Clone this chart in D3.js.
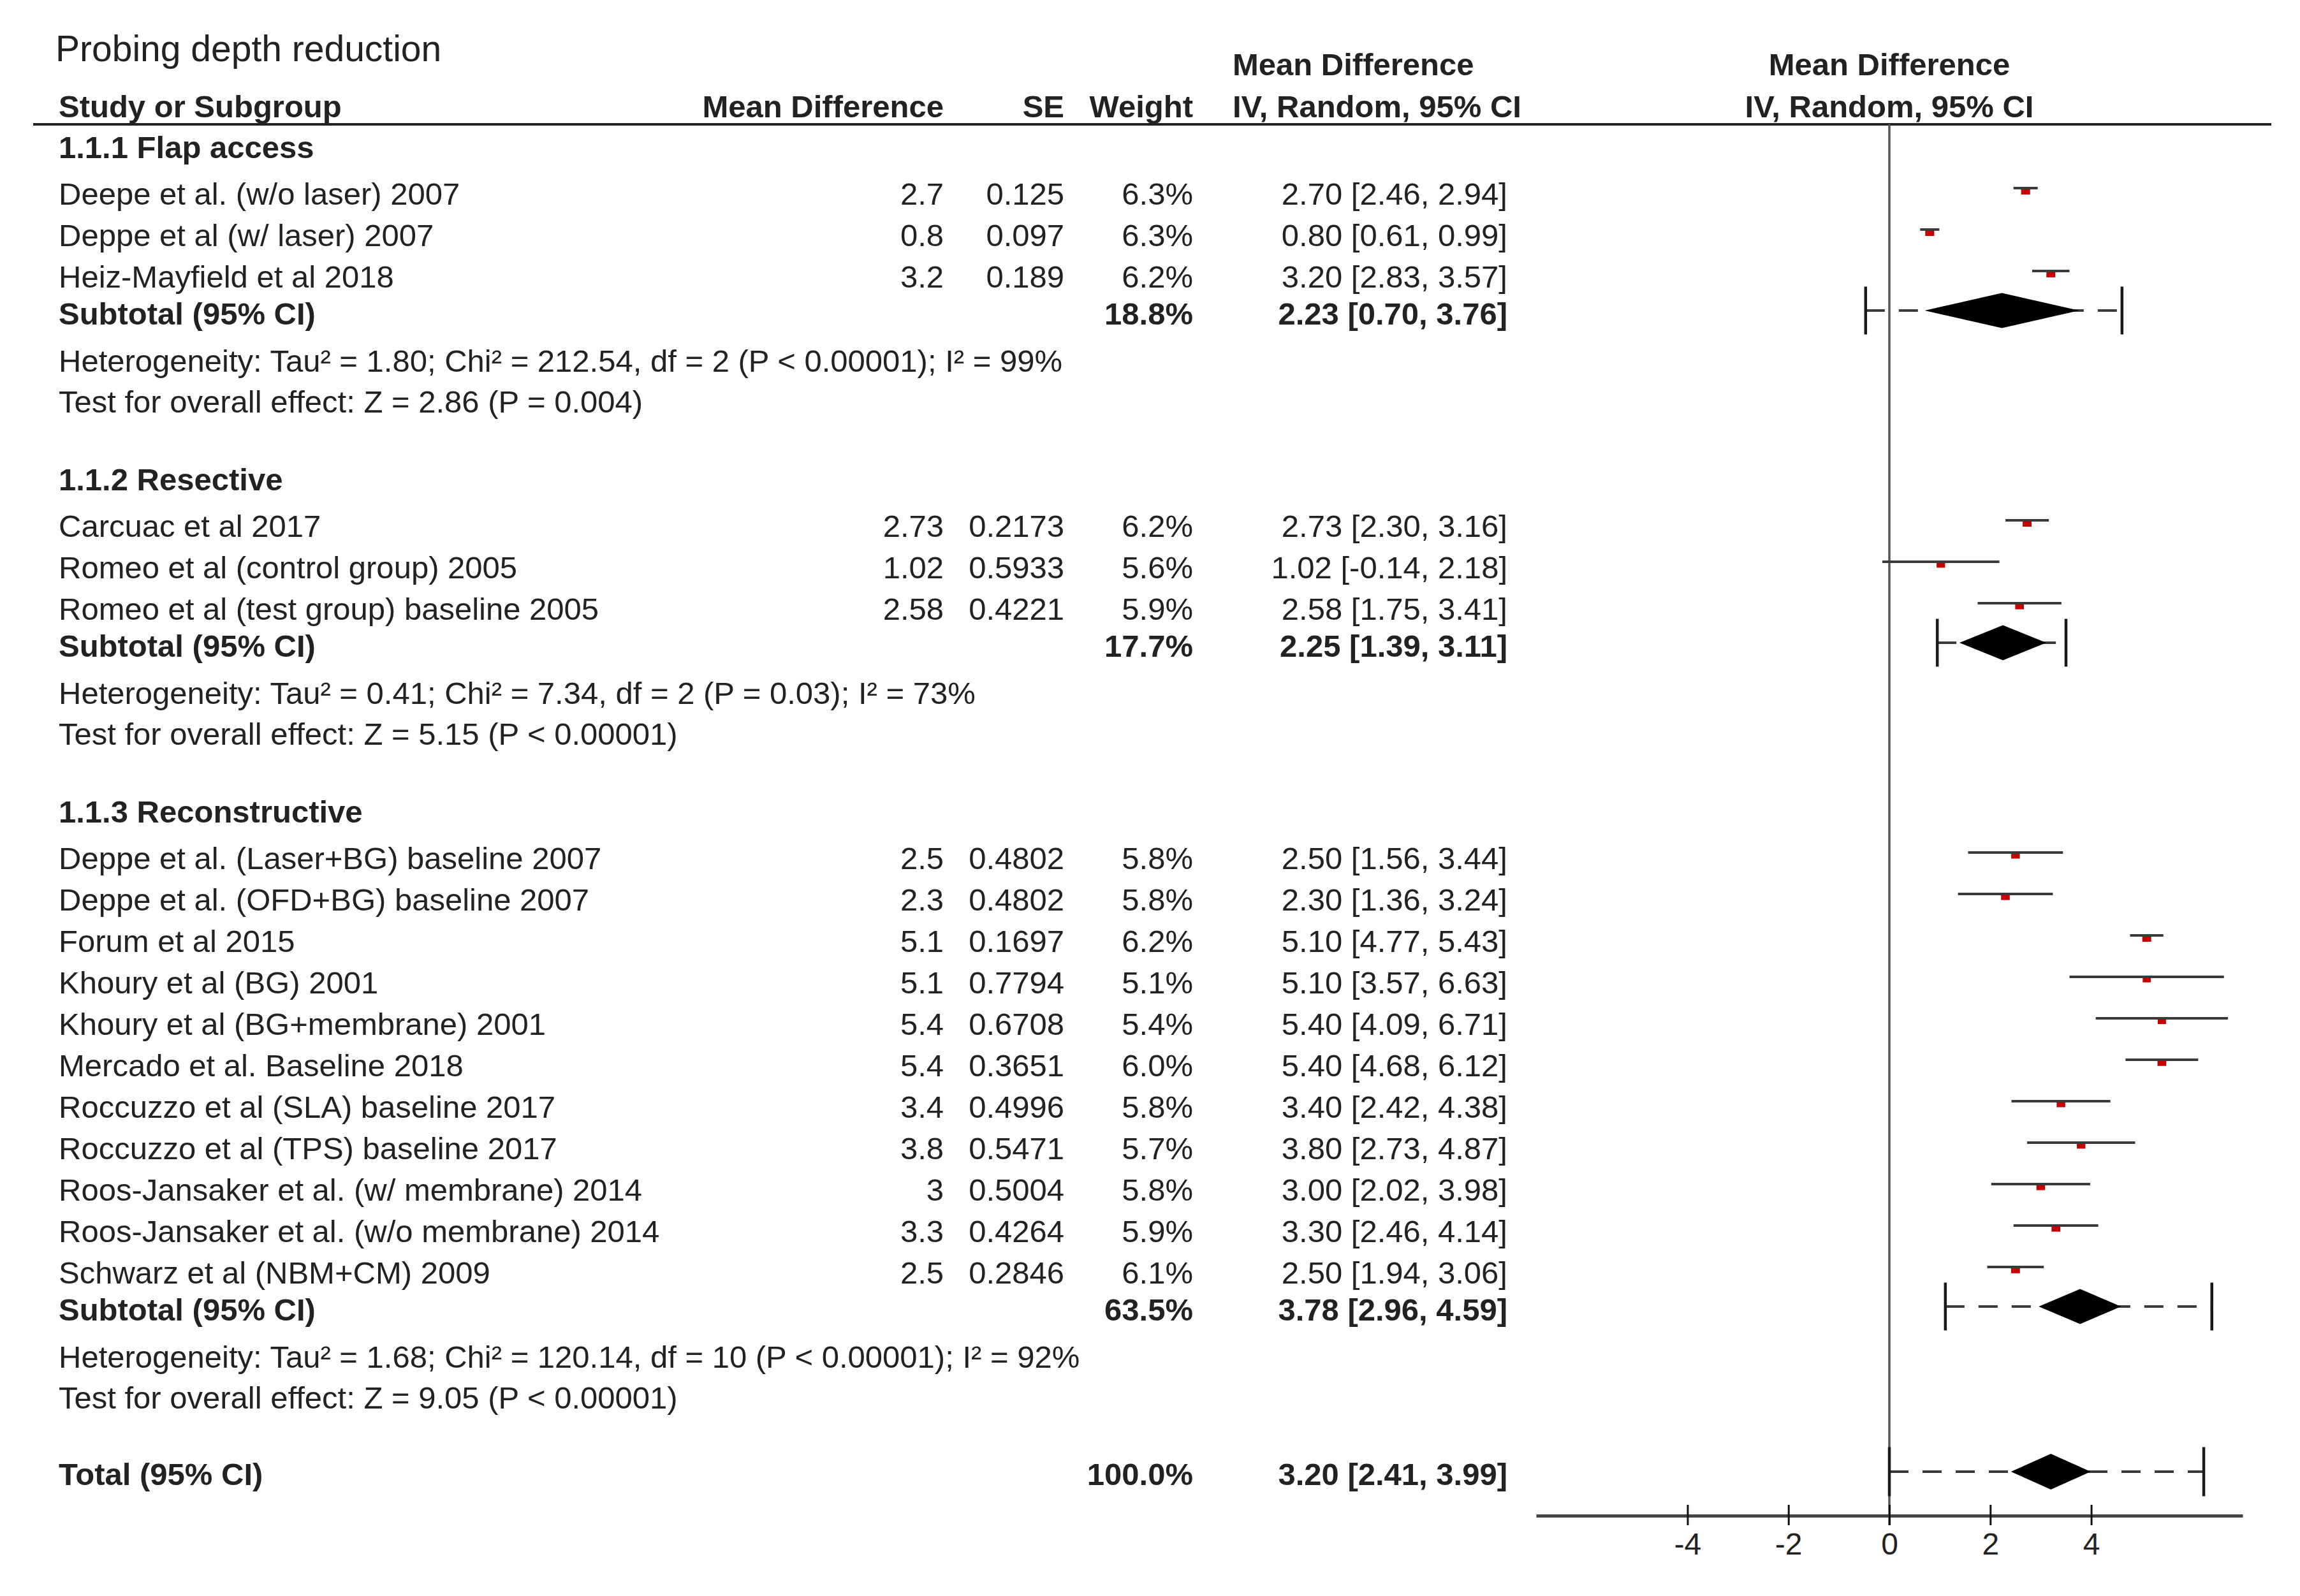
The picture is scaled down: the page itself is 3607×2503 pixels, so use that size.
<!DOCTYPE html>
<html><head><meta charset="utf-8">
<script src="https://cdn.jsdelivr.net/npm/d3@7"></script>
<style>html,body{margin:0;padding:0;background:#fff;} svg{display:block;}</style>
</head><body>
<script>
// ---------------- DATA ----------------
const chartTitle = "Probing depth reduction";
const groupLabels = ["1.1.1 Flap access", "1.1.2 Resective", "1.1.3 Reconstructive"];
const studyNames = [
  "Deepe et al. (w/o laser) 2007",
  "Deppe et al (w/ laser) 2007",
  "Heiz-Mayfield et al 2018",
  "Carcuac et al 2017",
  "Romeo et al (control group) 2005",
  "Romeo et al (test group) baseline 2005",
  "Deppe et al. (Laser+BG) baseline 2007",
  "Deppe et al. (OFD+BG) baseline 2007",
  "Forum et al 2015",
  "Khoury et al (BG) 2001",
  "Khoury et al (BG+membrane) 2001",
  "Mercado et al. Baseline 2018",
  "Roccuzzo et al (SLA) baseline 2017",
  "Roccuzzo et al (TPS) baseline 2017",
  "Roos-Jansaker et al. (w/ membrane) 2014",
  "Roos-Jansaker et al. (w/o membrane) 2014",
  "Schwarz et al (NBM+CM) 2009"
];
const studyGroup = [0,0,0, 1,1,1, 2,2,2,2,2,2,2,2,2,2,2];
const meanDiff = [2.7, 0.8, 3.2, 2.73, 1.02, 2.58, 2.5, 2.3, 5.1, 5.1, 5.4, 5.4, 3.4, 3.8, 3, 3.3, 2.5];
const stdErr   = [0.125, 0.097, 0.189, 0.2173, 0.5933, 0.4221, 0.4802, 0.4802, 0.1697, 0.7794, 0.6708, 0.3651, 0.4996, 0.5471, 0.5004, 0.4264, 0.2846];
const weights  = [6.3, 6.3, 6.2, 6.2, 5.6, 5.9, 5.8, 5.8, 6.2, 5.1, 5.4, 6.0, 5.8, 5.7, 5.8, 5.9, 6.1];
const ciLow    = [2.46, 0.61, 2.83, 2.30, -0.14, 1.75, 1.56, 1.36, 4.77, 3.57, 4.09, 4.68, 2.42, 2.73, 2.02, 2.46, 1.94];
const ciHigh   = [2.94, 0.99, 3.57, 3.16, 2.18, 3.41, 3.44, 3.24, 5.43, 6.63, 6.71, 6.12, 4.38, 4.87, 3.98, 4.14, 3.06];

const subWeight = [18.8, 17.7, 63.5];
const subMD     = [2.23, 2.25, 3.78];
const subLow    = [0.70, 1.39, 2.96];
const subHigh   = [3.76, 3.11, 4.59];
const subPredLow  = [-0.47, 0.95, 1.11];   // dashed-interval ends
const subPredHigh = [4.61, 3.50, 6.39];
const hetTexts = [
  "Heterogeneity: Tau\u00b2 = 1.80; Chi\u00b2 = 212.54, df = 2 (P < 0.00001); I\u00b2 = 99%",
  "Heterogeneity: Tau\u00b2 = 0.41; Chi\u00b2 = 7.34, df = 2 (P = 0.03); I\u00b2 = 73%",
  "Heterogeneity: Tau\u00b2 = 1.68; Chi\u00b2 = 120.14, df = 10 (P < 0.00001); I\u00b2 = 92%"
];
const testTexts = [
  "Test for overall effect: Z = 2.86 (P = 0.004)",
  "Test for overall effect: Z = 5.15 (P < 0.00001)",
  "Test for overall effect: Z = 9.05 (P < 0.00001)"
];
const totalWeight = [100.0];
const totalMD   = [3.20];
const totalLow  = [2.41];
const totalHigh = [3.99];
const totalPredLow  = [0.0];
const totalPredHigh = [6.23];

const axisDomain = [-7, 7];
const axisTicks = [-4, -2, 0, 2, 4];
const headerLabels = ["Study or Subgroup", "Mean Difference", "SE", "Weight"];
const ciHeader = ["Mean Difference", "IV, Random, 95% CI"];

// ---------------- LAYOUT ----------------
const W = 3607, H = 2503;
const FONT = "'Liberation Sans', Arial, sans-serif";
const TXT = "#222";
const fs = 49;
const colStudy = 92, colMD = 1480, colSE = 1669, colW = 1871, colCI = 2364, colCIHead = 1933;

const svg = d3.select("body").append("svg").attr("width", W).attr("height", H)
  .style("background", "#fff");

const x = d3.scaleLinear().domain(axisDomain).range([2409, 3517]);

function text(str, xx, yy, opts = {}) {
  return svg.append("text")
    .attr("x", xx).attr("y", yy)
    .attr("font-family", FONT)
    .attr("font-size", opts.size || fs)
    .attr("font-weight", opts.bold ? "bold" : "normal")
    .attr("text-anchor", opts.anchor || "start")
    .attr("fill", TXT)
    .text(str);
}

// title & headers
text(chartTitle, 87, 96, {size: 57});
text(ciHeader[0], colCIHead, 118, {bold: true});
text(ciHeader[0], x(0), 118, {bold: true, anchor: "middle"});
text(headerLabels[0], colStudy, 184, {bold: true});
text(headerLabels[1], colMD, 184, {bold: true, anchor: "end"});
text(headerLabels[2], colSE, 184, {bold: true, anchor: "end"});
text(headerLabels[3], colW, 184, {bold: true, anchor: "end"});
text(ciHeader[1], colCIHead, 184, {bold: true});
text(ciHeader[1], x(0), 184, {bold: true, anchor: "middle"});

svg.append("line").attr("x1", 52).attr("x2", 3562).attr("y1", 195).attr("y2", 195)
  .attr("stroke", "#222").attr("stroke-width", 4);

// compute row baselines
const studyY = new Array(studyNames.length);
const groupY = [], subY = [], hetY = [], testY = [];
let y = 248;
groupLabels.forEach((g, gi) => {
  groupY.push(y);
  y += 73;
  let last = y;
  studyNames.forEach((s, i) => {
    if (studyGroup[i] === gi) { studyY[i] = y; last = y; y += 65; }
  });
  const sy = last + 58;
  subY.push(sy);
  hetY.push(sy + 74);
  testY.push(sy + 138);
  y = sy + 138 + 122;
});
const totalY = testY[testY.length - 1] + 120;
const axisY = 2377;

// zero line
svg.append("line").attr("x1", x(0)).attr("x2", x(0)).attr("y1", 195).attr("y2", axisY + 15)
  .attr("stroke", "#555").attr("stroke-width", 3.5);

const fmt2 = v => d3.format(".2f")(v).replace("\u2212", "-");
const fmt1 = d => d3.format(".1f")(d) + "%";
const ciStr = (m, l, h) => `${fmt2(m)} [${fmt2(l)}, ${fmt2(h)}]`;

// group labels
groupLabels.forEach((g, gi) => text(g, colStudy, groupY[gi], {bold: true}));

// studies
studyNames.forEach((s, i) => {
  const by = studyY[i];
  text(s, colStudy, by);
  text(String(meanDiff[i]), colMD, by, {anchor: "end"});
  text(String(stdErr[i]), colSE, by, {anchor: "end"});
  text(fmt1(weights[i]), colW, by, {anchor: "end"});
  text(ciStr(meanDiff[i], ciLow[i], ciHigh[i]), colCI, by, {anchor: "end"});
});

// study marks
const marks = svg.append("g");
studyNames.forEach((s, i) => {
  const cy = studyY[i] - 21;
  const ly = cy - 5;
  const side = 5.6 * Math.sqrt(weights[i]);
  marks.append("rect")
    .attr("x", x(meanDiff[i]) - side / 2).attr("y", ly - 2)
    .attr("width", side).attr("height", side - 2)
    .attr("fill", "#c40000");
  marks.append("line")
    .attr("x1", x(ciLow[i])).attr("x2", x(ciHigh[i]))
    .attr("y1", ly).attr("y2", ly)
    .attr("stroke", "#3a3a3a").attr("stroke-width", 4);
});

function pooled(cy, m, l, h, pl, ph, dh, ch) {
  svg.append("line").attr("x1", x(pl)).attr("x2", x(ph)).attr("y1", cy).attr("y2", cy)
    .attr("stroke", "#3a3a3a").attr("stroke-width", 4).attr("stroke-dasharray", "30,22");
  [pl, ph].forEach(v => svg.append("line").attr("x1", x(v)).attr("x2", x(v))
    .attr("y1", cy - ch / 2).attr("y2", cy + ch / 2)
    .attr("stroke", "#1a1a1a").attr("stroke-width", 4.5));
  svg.append("path")
    .attr("d", `M${x(l)},${cy} L${x(m)},${cy - dh / 2} L${x(h)},${cy} L${x(m)},${cy + dh / 2} Z`)
    .attr("fill", "#000");
}

// subtotals
groupLabels.forEach((g, gi) => {
  const by = subY[gi];
  text("Subtotal (95% CI)", colStudy, by, {bold: true});
  text(fmt1(subWeight[gi]), colW, by, {bold: true, anchor: "end"});
  text(ciStr(subMD[gi], subLow[gi], subHigh[gi]), colCI, by, {bold: true, anchor: "end"});
  text(hetTexts[gi], colStudy, hetY[gi]);
  text(testTexts[gi], colStudy, testY[gi]);
  pooled(by - 22, subMD[gi], subLow[gi], subHigh[gi], subPredLow[gi], subPredHigh[gi], 55, 75);
});

// total
text("Total (95% CI)", colStudy, totalY, {bold: true});
text(fmt1(totalWeight[0]), colW, totalY, {bold: true, anchor: "end"});
text(ciStr(totalMD[0], totalLow[0], totalHigh[0]), colCI, totalY, {bold: true, anchor: "end"});
pooled(totalY - 21, totalMD[0], totalLow[0], totalHigh[0], totalPredLow[0], totalPredHigh[0], 56, 77);

// axis
const axis = d3.axisBottom(x).tickValues(axisTicks).tickSize(15).tickSizeOuter(0).tickPadding(12)
  .tickFormat(d => String(d));
const ag = svg.append("g").attr("transform", `translate(0,${axisY})`).call(axis);
ag.select(".domain").attr("stroke", "#444").attr("stroke-width", 5);
ag.selectAll(".tick line").attr("y1", -17).attr("y2", 15).attr("stroke", "#111").attr("stroke-width", 3);
ag.selectAll(".tick text").attr("font-family", FONT).attr("font-size", 48).attr("fill", TXT)
  .attr("dy", "0.71em");
</script>
</body></html>
